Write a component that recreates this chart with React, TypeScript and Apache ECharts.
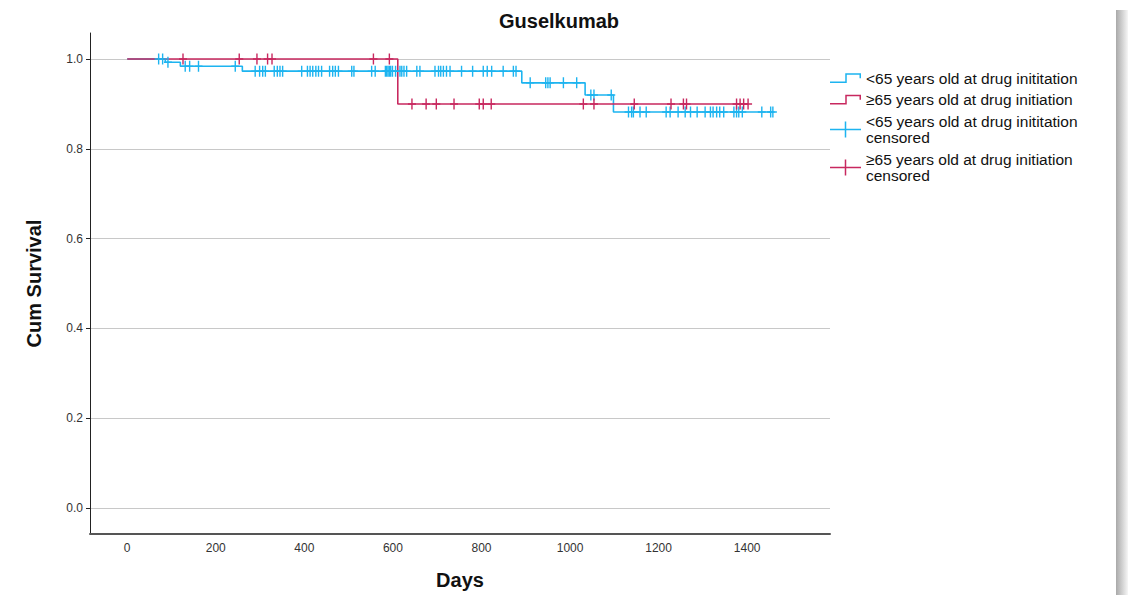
import React, { useEffect, useRef } from "react";
import * as echarts from "echarts";

// ---- data ----
const yTicks = [0, 0.2, 0.4, 0.6, 0.8, 1.0];
const xTicks = [0, 200, 400, 600, 800, 1000, 1200, 1400];

// Kaplan-Meier step points [day, survival]
const under65Steps: [number, number][] = [
  [0, 1.0], [86, 0.993], [120, 0.984], [260, 0.973], [891, 0.947],
  [1034, 0.92], [1098, 0.882], [1458, 0.882],
];
const over65Steps: [number, number][] = [
  [0, 1.0], [611, 0.9], [1402, 0.9],
];

// censoring times (days)
const under65Censored = [
  71, 80, 92, 131, 141, 161, 244,
  289, 299, 306, 312, 332, 339, 345, 351, 394, 407, 413, 419, 426, 432, 439,
  457, 464, 470, 477, 507, 512, 552, 560, 583, 586, 589, 592, 595, 599, 606,
  616, 620, 625, 631, 654, 661, 695, 703, 708, 714, 721, 729, 755, 780, 804,
  813, 823, 849, 872, 878,
  910, 945, 950, 955, 985, 1015,
  1047, 1054, 1093,
  1132, 1139, 1143, 1158, 1172, 1217, 1226, 1244, 1260, 1272, 1287, 1305,
  1317, 1323, 1331, 1338, 1347, 1370, 1376, 1381, 1389, 1433, 1453, 1458,
];
const over65Censored = [
  126, 253, 293, 317, 327, 556, 592,
  643, 675, 698, 738, 795, 804, 822, 1030, 1054, 1145, 1228, 1256, 1263,
  1376, 1384, 1392, 1402,
];

const seriesNames = [
  "<65 years old at drug inititation",
  "≥65 years old at drug initiation",
  "<65 years old at drug inititation\ncensored",
  "≥65 years old at drug initiation\ncensored",
];

const BLUE = "#1db4f0";
const RED = "#c8285f";
const FONT = 'Arial, "Liberation Sans", sans-serif';

function survivalAt(steps: [number, number][], t: number): number {
  let s = steps[0][1];
  for (const [d, v] of steps) {
    if (d <= t) s = v;
  }
  return s;
}

const markSymbol =
  "path://M3.3,0 H4.7 V4.8 H8 V6.2 H4.7 V11 H3.3 V6.2 H0 V4.8 H3.3 Z";
const stepIcon =
  "path://M0,0 L0.01,0 L0,0.01 Z M0,16 L0.01,16 L0,15.99 Z M0,11.25 H15.25 V3 H31 V8 H29.5 V4.5 H16.75 V12.75 H0 Z";
const crossIcon =
  "path://M14.75,0 H16.25 V7.25 H31 V8.75 H16.25 V16 H14.75 V8.75 H0 V7.25 H14.75 Z";

export default function App() {
  const ref = useRef<HTMLDivElement>(null);

  useEffect(() => {
    if (!ref.current) return;
    const chart = echarts.init(ref.current, null, { renderer: "svg" });

    const option: any = {
      animation: false,
      backgroundColor: "#ffffff",
      title: {
        text: "Guselkumab",
        left: 554,
        top: 6,
        textAlign: "center",
        textStyle: { fontFamily: FONT, fontSize: 20, fontWeight: "bold", color: "#111" },
      },
      legend: {
        orient: "vertical",
        left: 830,
        top: 70,
        padding: 0,
        itemWidth: 31,
        itemHeight: 16,
        itemGap: 5,
        selectedMode: false,
        itemStyle: { borderWidth: 0 },
        textStyle: { fontFamily: FONT, fontSize: 15.5, lineHeight: 16.5, color: "#111" },
        data: [
          { name: seriesNames[0], icon: stepIcon },
          { name: seriesNames[1], icon: stepIcon },
          { name: seriesNames[2], icon: crossIcon },
          { name: seriesNames[3], icon: crossIcon },
        ],
      },
      grid: { left: 90, top: 33, width: 740, height: 502, containLabel: false },
      xAxis: {
        type: "value",
        min: -84,
        max: 1587,
        name: "Days",
        nameLocation: "middle",
        nameGap: 36,
        nameTextStyle: { fontFamily: FONT, fontSize: 20, fontWeight: "bold", color: "#111" },
        axisLine: { onZero: false, lineStyle: { color: "#555", width: 2 } },
        axisTick: { show: false, customValues: xTicks },
        axisLabel: {
          customValues: xTicks,
          margin: 8,
          fontFamily: FONT,
          fontSize: 12,
          color: "#333",
          formatter: (v: number) => String(v),
        },
        splitLine: { show: false },
      },
      yAxis: {
        type: "value",
        min: -0.058,
        max: 1.058,
        name: "Cum Survival",
        nameLocation: "middle",
        nameGap: 46,
        nameRotate: 90,
        nameTextStyle: { fontFamily: FONT, fontSize: 20, fontWeight: "bold", color: "#111" },
        axisLine: { onZero: false, show: true, lineStyle: { color: "#222", width: 1 } },
        axisTick: { show: true, length: 4, customValues: yTicks, lineStyle: { color: "#222" } },
        axisLabel: {
          customValues: yTicks,
          margin: 7,
          fontFamily: FONT,
          fontSize: 12,
          color: "#333",
          formatter: (v: number) => v.toFixed(1),
        },
        splitLine: { show: true, lineStyle: { color: "#c8c8c8", width: 1.2 } },
      },
      graphic: [
        {
          type: "rect",
          shape: { x: 1116, y: 10, width: 12, height: 585 },
          style: {
            fill: new echarts.graphic.LinearGradient(0, 0, 1, 0, [
              { offset: 0, color: "#a9a9a9" },
              { offset: 1, color: "#f6f6f6" },
            ]),
          },
          silent: true,
        },
      ],
      series: [
        {
          name: seriesNames[0],
          type: "line",
          step: "end",
          data: under65Steps,
          showSymbol: false,
          symbol: "none",
          color: BLUE,
          lineStyle: { color: BLUE, width: 1.6 },
          z: 2,
        },
        {
          name: seriesNames[1],
          type: "line",
          step: "end",
          data: over65Steps,
          showSymbol: false,
          symbol: "none",
          color: RED,
          lineStyle: { color: RED, width: 1.6 },
          z: 3,
        },
        {
          name: seriesNames[2],
          type: "scatter",
          data: under65Censored.map((t) => [t, survivalAt(under65Steps, t)]),
          symbol: markSymbol,
          symbolSize: [8, 11],
          itemStyle: { color: BLUE, opacity: 1, borderWidth: 0 },
          z: 4,
        },
        {
          name: seriesNames[3],
          type: "scatter",
          data: over65Censored.map((t) => [t, survivalAt(over65Steps, t)]),
          symbol: markSymbol,
          symbolSize: [8, 11],
          itemStyle: { color: RED, opacity: 1, borderWidth: 0 },
          z: 5,
        },
      ],
    };

    chart.setOption(option);
    return () => chart.dispose();
  }, []);

  return (
    <div
      ref={ref}
      style={{ position: "fixed", left: 0, top: 0, width: 1128, height: 595, background: "#fff" }}
    />
  );
}
